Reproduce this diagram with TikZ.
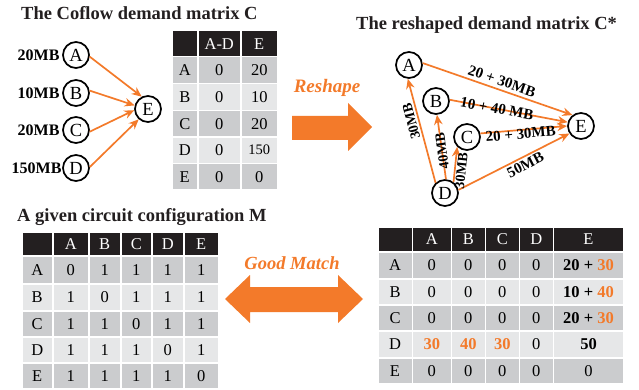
\documentclass[tikz,border=0pt]{standalone}
\usepackage{fontspec}
\setmainfont{Liberation Serif}
\usetikzlibrary{arrows.meta}
\definecolor{org}{HTML}{F37A2A}
\definecolor{hdr}{HTML}{231F20}
\definecolor{gdark}{HTML}{CBCCCE}
\definecolor{glight}{HTML}{E6E7E8}
\newcommand{\tcell}[8]{\node[cell, fill=#6, text=#7, minimum width={(#3-#2)*1pt}, minimum height={(#5-#4)*1pt}] (#1) at (#2,#4) {#8};}
\newcommand{\oB}[1]{\textbf{\textcolor{org}{#1}}}
\begin{document}
\begin{tikzpicture}[x=1pt,y=-1pt,
  cell/.style={rectangle, draw=white, line width=1.5pt, inner sep=0pt, anchor=north west, font=\fontsize{16.5}{18}\selectfont},
  ttl/.style={font=\fontsize{18.5}{20}\selectfont\bfseries, anchor=west, inner sep=0pt, text=hdr},
  vtx/.style={circle, draw=black, line width=1.7pt, minimum size=26pt, inner sep=0pt, font=\fontsize{18.5}{19}\selectfont},
  lab/.style={font=\fontsize{16}{17}\selectfont\bfseries, anchor=east, inner sep=2.5pt},
  elab/.style={font=\fontsize{15}{16}\selectfont\bfseries, inner sep=1pt},
  vlab/.style={font=\fontsize{14}{15}\selectfont\bfseries, inner sep=1pt},
  arr/.style={draw=org, line width=1.7pt, -{Stealth[length=10pt,width=8.5pt]}},
  orgtxt/.style={font=\fontsize{19}{20}\selectfont\bfseries\itshape, text=org, inner sep=0pt}
]
\useasboundingbox (0,0) rectangle (639,390);

% titles
\node[ttl] (t1) at (21,13) {The Coflow demand matrix C};
\node[ttl] (t2) at (356,25) {The reshaped demand matrix C*};
\node[ttl] (t3) at (17,217) {A given circuit configuration M};

% left graph
\node[vtx] (lA) at (76,55) {A};
\node[vtx] (lB) at (76,93) {B};
\node[vtx] (lC) at (76,130) {C};
\node[vtx] (lD) at (76,168) {D};
\node[vtx] (lE) at (148,109) {E};
\node[lab] (la) at (lA.west) {20MB};
\node[lab] (lb) at (lB.west) {10MB};
\node[lab] (lc) at (lC.west) {20MB};
\node[lab, inner sep=0.5pt] (ld) at (lD.west) {150MB};
\draw[arr] (lA.-7) -- (lE.117);
\draw[arr] (lB.10) -- (lE.165);
\draw[arr] (lC.-7) -- (lE.185);
\draw[arr] (lD.4) -- (lE.228);

% table 1
\foreach \ya/\yb/\fc/\tc/\rn/\va/\vb/\vc in {
  30/56/hdr/white/0/{}/A-D/E,
  56/83/gdark/black/1/A/0/20,
  83/110/glight/black/2/B/0/10,
  110/136.5/gdark/black/3/C/0/20,
  136.5/163/glight/black/4/D/0/{\raisebox{2pt}{\fontsize{14.5}{15}\selectfont 150}},
  163/189/gdark/black/5/E/0/0}{
  \tcell{ta-\rn-0}{171}{197}{\ya}{\yb}{\fc}{\tc}{\va}
  \tcell{ta-\rn-1}{197}{240}{\ya}{\yb}{\fc}{\tc}{\vb}
  \tcell{ta-\rn-2}{240}{277}{\ya}{\yb}{\fc}{\tc}{\vc}
}

% reshape arrow
\fill[org] (292,116) -- (348,116) -- (348,103) -- (372,127) -- (348,151) -- (348,140) -- (292,140) -- cycle;
\node[orgtxt] (rs) at (327,88) {Reshape};

% right graph
\node[vtx] (rA) at (409,65) {A};
\node[vtx] (rB) at (436,101) {B};
\node[vtx] (rC) at (467,137) {C};
\node[vtx] (rD) at (445,193) {D};
\node[vtx] (rE) at (581,126) {E};
\draw[arr] (rA.8) -- node[elab, pos=0.51, sloped, above=2pt] (e1) {20 + 30MB} (rE.128);
\draw[arr] (rB.5) -- node[elab, pos=0.4, sloped] (e2) {10 + 40 MB} (rE.164);
\draw[arr] (rC.15) -- node[elab, pos=0.46, sloped, below=-3pt] (e3) {20 + 30MB} (rE.180);
\draw[arr] (rD.13) -- node[elab, pos=0.57, sloped, below=1pt] (e4) {50MB} (rE.213);
\draw[arr] (rD.133) -- node[vlab, pos=0.61, sloped, allow upside down, above=1pt] (e5) {30MB} (rA.265);
\draw[arr] (rD.86) -- node[vlab, pos=0.44, sloped, allow upside down] (e6) {40MB} (rB.274);
\draw[arr] (rD.52) -- node[vlab, pos=0.34, sloped, allow upside down, below=0pt] (e7) {30MB} (rC.225);

% table 2
\foreach \ya/\yb/\fc/\tc/\rn/\va/\vb/\vc/\vd/\ve/\vf in {
  231/255/hdr/white/0/{}/A/B/C/D/E,
  255/283/gdark/black/1/A/0/1/1/1/1,
  283/310/glight/black/2/B/1/0/1/1/1,
  310/336/gdark/black/3/C/1/1/0/1/1,
  336/362/glight/black/4/D/1/1/1/0/1,
  362/388/gdark/black/5/E/1/1/1/1/0}{
  \tcell{tb-\rn-0}{21}{52}{\ya}{\yb}{\fc}{\tc}{\va}
  \tcell{tb-\rn-1}{52}{88}{\ya}{\yb}{\fc}{\tc}{\vb}
  \tcell{tb-\rn-2}{88}{120}{\ya}{\yb}{\fc}{\tc}{\vc}
  \tcell{tb-\rn-3}{120}{151}{\ya}{\yb}{\fc}{\tc}{\vd}
  \tcell{tb-\rn-4}{151}{183}{\ya}{\yb}{\fc}{\tc}{\ve}
  \tcell{tb-\rn-5}{183}{218}{\ya}{\yb}{\fc}{\tc}{\vf}
}

% good match arrow
\fill[org] (225,299) -- (250,275) -- (250,287) -- (338,287) -- (338,275) -- (363,299) -- (338,323) -- (338,312) -- (250,312) -- (250,323) -- cycle;
\node[orgtxt, font=\fontsize{18.5}{20}\selectfont\bfseries\itshape] (gm) at (292,263) {Good Match};

% table 3
\foreach \ya/\yb/\fc/\tc/\rn/\va/\vb/\vc/\vd/\ve/\vf in {
  226/251/hdr/white/0/{}/A/B/C/D/E,
  251/278/gdark/black/1/A/0/0/0/0/{\textbf{20 + \textcolor{org}{30}}},
  278/304/glight/black/2/B/0/0/0/0/{\textbf{10 + \textcolor{org}{40}}},
  304/330/gdark/black/3/C/0/0/0/0/{\textbf{20 + \textcolor{org}{30}}},
  330/357/glight/black/4/D/{\oB{30}}/{\oB{40}}/{\oB{30}}/0/{\textbf{50}},
  357/383/gdark/black/5/E/0/0/0/0/0}{
  \tcell{tc-\rn-0}{377}{411.5}{\ya}{\yb}{\fc}{\tc}{\va}
  \tcell{tc-\rn-1}{411.5}{450.5}{\ya}{\yb}{\fc}{\tc}{\vb}
  \tcell{tc-\rn-2}{450.5}{484.5}{\ya}{\yb}{\fc}{\tc}{\vc}
  \tcell{tc-\rn-3}{484.5}{518.5}{\ya}{\yb}{\fc}{\tc}{\vd}
  \tcell{tc-\rn-4}{518.5}{552.5}{\ya}{\yb}{\fc}{\tc}{\ve}
  \tcell{tc-\rn-5}{552.5}{623}{\ya}{\yb}{\fc}{\tc}{\vf}
}
\end{tikzpicture}
\end{document}
